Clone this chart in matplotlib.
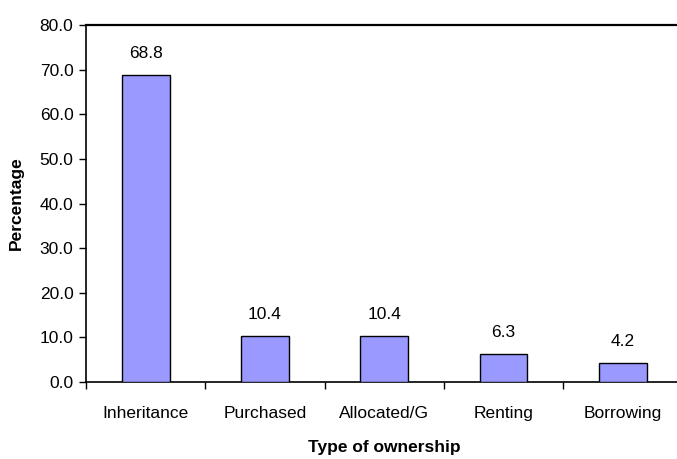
import matplotlib
matplotlib.use("Agg")
import matplotlib.pyplot as plt
import numpy as np

categories = ["Inheritance", "Purchased", "Allocated/G", "Renting", "Borrowing"]
values = [68.8, 10.4, 10.4, 6.3, 4.2]
yticks = [0, 10, 20, 30, 40, 50, 60, 70, 80]

plt.rcParams['font.family'] = ['Liberation Sans', 'DejaVu Sans']

W, H = 677, 459
fig = plt.figure(figsize=(W/100, H/100), dpi=100)
left, right, top, bottom = 86, 682.5, 25, 382
ax = fig.add_axes([left/W, 1 - bottom/H, (right-left)/W, (bottom-top)/H])

fs = 12.5
x = np.arange(len(categories))
ax.bar(x, values, width=0.4, color='#9999FF', edgecolor='black', linewidth=1.0, zorder=3)
for xi, v in zip(x, values):
    ax.annotate(f"{v:.1f}", (xi, v), xytext=(0, 10), textcoords='offset points',
                ha='center', va='bottom', fontsize=fs)

ax.set_xlim(-0.5, len(categories) - 0.5)
ax.set_ylim(0, 80)
ax.set_yticks(yticks)
ax.set_yticklabels([f"{t:.1f}" for t in yticks], fontsize=fs)
ax.set_xticks(np.arange(len(categories) + 1) - 0.5)
ax.set_xticklabels([])
ax.set_xticks(x, minor=True)
ax.set_xticklabels(categories, minor=True, fontsize=fs)
ax.tick_params(axis='x', which='minor', length=0, pad=17)
ax.tick_params(axis='x', which='major', length=5, width=1, direction='out')
ax.tick_params(axis='y', length=5, width=1, direction='out', pad=4)
for s in ax.spines.values():
    s.set_linewidth(1.2)
ax.spines['top'].set_linewidth(1.6)

ax.set_ylabel("Percentage", fontsize=fs, fontweight='bold', labelpad=11)
ax.set_xlabel("Type of ownership", fontsize=fs, fontweight='bold', labelpad=14)

fig.savefig("out.png", dpi=100)
